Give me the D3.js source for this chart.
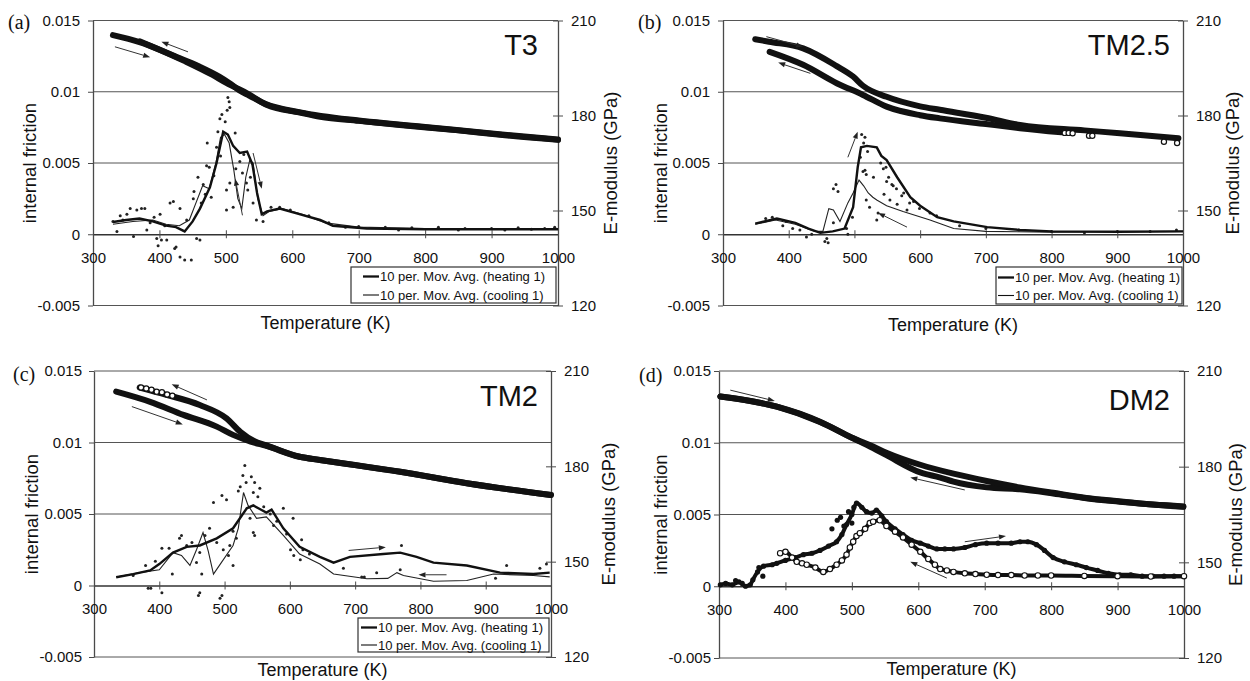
<!DOCTYPE html>
<html>
<head>
<meta charset="utf-8">
<script src="https://cdn.jsdelivr.net/npm/d3@7"></script>
<style>
  body { margin: 0; background: #fff; }
  svg { display: block; }
</style>
</head>
<body>
<svg id="fig" width="1250" height="681"></svg>
<script>
// ---- shared ticks / labels ----
const tempTicks = [300, 400, 500, 600, 700, 800, 900, 1000];
const frictionTicks = [-0.005, 0, 0.005, 0.01, 0.015];
const modulusTicks = [120, 150, 180, 210];
const legendLabels = ['10 per. Mov. Avg. (heating 1)', '10 per. Mov. Avg. (cooling 1)'];

// ---- (a) T3 ----  [T (K), E (GPa)] / [T (K), internal friction]
const t3ModHeat = [[330,205.4],[370,203.2],[440,197.0],[480,192.8],[500,190.4],[511,189.2],[532,187.0],[562,183.3],[612,180.9],[642,179.6],[700,178.3],[762,177.0],[850,175.3],[913,173.9],[1000,172.3]];
const t3ModCool = [[371,203.4],[420,199.0],[460,195.5],[490,192.3],[505,190.3],[520,188.0],[535,186.3],[560,183.6],[612,181.0],[700,178.4],[800,176.4],[900,174.3],[1000,172.4]];
const t3AvgHeat = [[330,0.00086],[350,0.0010],[370,0.0011],[390,0.0009],[410,0.0006],[425,0.0005],[438,0.0002],[450,0.0009],[461,0.0018],[476,0.0033],[486,0.0050],[496,0.0072],[503,0.0070],[511,0.0062],[521,0.0057],[532,0.0058],[540,0.0049],[547,0.0029],[554,0.0014],[562,0.0016],[581,0.0018],[612,0.0014],[642,0.0010],[661,0.0006],[712,0.0004],[800,0.00035],[900,0.00035],[1000,0.00035]];
const t3AvgCool = [[330,0.0007],[360,0.0009],[390,0.0010],[410,0.0007],[430,0.0006],[445,0.0010],[455,0.0022],[465,0.0034],[475,0.0032],[485,0.0050],[492,0.0068],[498,0.0070],[505,0.0064],[512,0.0045],[518,0.0025],[524,0.0018],[530,0.0040],[536,0.0052],[541,0.0050],[548,0.0025],[556,0.0013],[565,0.0016],[585,0.0018],[615,0.0014],[650,0.0008],[700,0.0005],[800,0.0004],[900,0.0004],[1000,0.0004]];
const t3Dots = [[503,0.0096],[505,0.0093],[506,0.0089],[502,0.0087],[491,0.0081],[494,0.0084],[499,0.0079],[488,0.0072],[514,0.0071],[472,0.0064],[486,0.0061],[471,0.0048],[492,0.0055],[458,0.0040],[466,0.0035],[475,0.0047],[482,0.0041],[506,0.0036],[501,0.0031],[511,0.0019],[501,0.0017],[531,0.0036],[533,0.0031],[521,0.0051],[527,0.0056],[541,0.0022],[546,0.0010],[556,0.0009],[515,0.0046],[525,0.0043],[537,0.0040],[469,0.0028],[478,0.0026],[452,0.0030],[463,0.0022],
  [396,-0.0003],[403,-0.0004],[411,-0.0004],[423,-0.0010],[431,-0.0016],[438,-0.0018],[448,-0.0018],[456,-0.0003],[461,-0.0004],[398,-0.0008],[425,-0.0009],
  [330,0.0009],[336,0.0002],[341,0.0013],[351,0.0014],[356,0.0018],[366,0.0017],[373,0.0018],[378,0.0018],[361,-0.00015],[381,0.0003],[401,0.0014],[416,0.0022],[421,0.0023],[431,0.0018],[441,0.0010],[451,0.0025],[386,0.0008],[408,0.0006],[345,0.0010],[392,0.0012],
  [568,0.0019],[581,0.0019],[597,0.0017],[625,0.0013],[655,0.0008],[680,0.0005],[700,0.00055],[740,0.0005],[760,0.0003],[780,0.00045],[820,0.0005],[850,0.0003],[860,0.0004],[900,0.0004],[920,0.0003],[940,0.00045],[960,0.00035],[980,0.0004],[995,0.0005]];
const t3Arrows = [[333,201.7,386,198.4,'E'],[443,200.1,403,203.3,'E'],[525,0.00133,514,0.0039,'q'],[541,0.0057,554,0.0032,'q']];

// ---- (b) TM2.5 ----
const tm25ModHeat = [[349,204.1],[370,203.3],[422,201.2],[473,195.6],[498,192.3],[513,189.4],[549,185.9],[600,182.9],[630,181.8],[700,179.3],[752,177.0],[850,175.3],[904,174.4],[993,172.8]];
const tm25ModCool = [[371,200.1],[422,196.0],[473,190.2],[513,186.5],[549,182.8],[600,180.1],[630,179.1],[700,177.3],[752,176.0],[815,174.7]];
const tm25ModOpen = [[820,174.5],[826,174.5],[832,174.4],[857,173.6],[862,173.6],[971,171.7],[991,171.3]];
const tm25AvgHeat = [[349,0.00075],[382,0.0011],[410,0.0008],[430,0.0004],[448,0.0001],[467,0.0002],[485,0.0004],[498,0.0019],[505,0.0047],[510,0.0061],[519,0.0062],[534,0.0061],[541,0.0055],[549,0.0052],[565,0.0040],[585,0.0026],[600,0.0020],[626,0.0012],[651,0.0009],[702,0.0005],[752,0.0003],[800,0.0002],[900,0.00018],[1000,0.0002]];
const tm25AvgCool = [[349,0.0007],[380,0.0010],[410,0.0007],[440,0.0002],[452,0.0002],[461,0.0018],[468,0.0017],[478,0.0009],[490,0.0022],[498,0.0029],[507,0.0038],[514,0.0034],[521,0.0029],[528,0.0026],[534,0.0024],[549,0.0020],[574,0.0016],[615,0.0010],[651,0.0004],[700,0.0002],[800,0.00015],[900,0.00018],[1000,0.0002]];
const tm25Dots = [[511,0.0070],[516,0.0068],[514,0.0064],[520,0.0058],[509,0.0054],[516,0.0045],[518,0.0042],[513,0.0044],[529,0.0040],[544,0.0046],[552,0.0040],[557,0.0035],[564,0.0032],[575,0.0029],[590,0.0023],[518,0.0024],[523,0.0019],[534,0.0010],[536,0.0015],[497,0.0012],[488,0.0004],[490,0.0000],[468,0.0032],[472,0.0035],[475,0.0030],[468,0.0008],[458,-0.0003],[460,-0.0006],[455,-0.0005],[417,0.0003],[427,-0.0002],[435,0.0000],[406,0.0004],[391,0.0006],[365,0.0011],[375,0.0012],[396,0.0009],[549,0.0037],[559,0.0034],[572,0.0027],[584,0.0022],[599,0.0018],[615,0.0015],[625,0.0013],[554,0.0024],[545,0.0028],[565,0.0021],[580,0.0017],[540,0.0050],[548,0.0047],
  [660,0.0006],[700,0.0004],[750,0.0003],[800,0.0002],[850,0.0001],[900,0.0002],[950,0.0002],[990,0.0003]];
const tm25Arrows = [[366,204.9,422,201.7,'E'],[433,193.3,384,196.7,'E'],[490,0.0054,505,0.0072,'q'],[580,0.0005,536,0.0015,'q']];

// ---- (c) TM2 ----
const tm2ModHeat = [[334,203.5],[386,200.3],[437,196.2],[488,192.5],[513,189.9],[540,187.8],[564,186.4],[615,183.0],[646,182.0],[700,180.4],[769,178.3],[871,174.7],[1000,171.0]];
const tm2ModCool = [[370,204.8],[411,202.5],[462,199.3],[503,195.1],[524,190.9],[545,188.0],[564,186.6],[615,183.0],[646,182.0],[769,178.3],[871,174.7],[1000,171.0]];
const tm2ModOpen = [[372,204.8],[380,204.5],[388,204.1],[396,203.5],[404,203.3],[412,202.6],[420,202.2]];
const tm2AvgHeat = [[334,0.00058],[360,0.0008],[386,0.00105],[400,0.0015],[421,0.0023],[442,0.0027],[462,0.0028],[488,0.0033],[513,0.0040],[534,0.0054],[544,0.0056],[556,0.0053],[564,0.0051],[572,0.0053],[590,0.0040],[615,0.0027],[646,0.0020],[667,0.0016],[692,0.0020],[743,0.0022],[769,0.0023],[794,0.0020],[820,0.0016],[871,0.0014],[922,0.0009],[973,0.0008],[998,0.0009]];
const tm2AvgCool = [[334,0.0006],[370,0.0009],[400,0.0011],[421,0.0023],[434,0.0021],[447,0.0014],[457,0.0025],[467,0.0037],[475,0.0024],[483,0.0008],[495,0.0016],[513,0.0028],[521,0.0040],[529,0.0065],[536,0.0056],[549,0.0047],[564,0.0048],[590,0.0035],[615,0.0022],[646,0.0015],[667,0.0008],[718,0.00047],[750,0.0005],[764,0.0009],[774,0.0007],[820,0.0003],[871,0.00035],[912,0.0008],[973,0.0007],[998,0.0006]];
const tm2Dots = [[531,0.0084],[528,0.0077],[541,0.0076],[546,0.0072],[554,0.0068],[533,0.0072],[524,0.0069],[521,0.0066],[496,0.0063],[483,0.0058],[503,0.0060],[544,0.0065],[551,0.0062],[590,0.0054],[605,0.0047],[539,0.0047],[544,0.0037],[546,0.0035],[513,0.0038],[518,0.0033],[508,0.0028],[506,0.0021],[513,0.0014],[498,0.0025],[465,0.0008],[457,0.0016],[477,0.0040],[462,0.0023],[442,0.0028],[434,0.0035],[431,0.0033],[415,0.0026],[404,0.0026],[394,0.0017],[420,0.0008],[462,-0.0005],[460,-0.0007],[383,-0.0002],[387,-0.0002],[404,-0.0005],[496,-0.0007],[493,-0.0009],[606,0.0021],[601,0.0025],[616,0.0018],[379,0.0014],[360,0.0007],
  [618,0.0032],[771,0.0028],[682,0.0012],[710,0.0006],[714,0.0006],[769,0.0011],[932,0.0014],[915,0.0005],[983,0.0012],[993,0.0015],[733,0.0009],
  [570,0.0050],[580,0.0045],[560,0.0055],[575,0.0042],[595,0.0036],[620,0.0025],[630,0.0022],[450,0.0030],[470,0.0035],[488,0.0030]];
const tm2Arrows = [[473,200.9,419,205.8,'E'],[358,198.8,436,193.2,'E'],[690,0.00245,747,0.00268,'q'],[840,0.00075,797,0.00075,'q']];

// ---- (d) DM2 ----
const dm2ModHeat = [[302,202.0],[350,200.5],[387,198.8],[452,194.1],[502,188.9],[532,186.3],[552,184.4],[603,180.6],[653,177.8],[703,175.5],[753,173.5],[803,171.8],[853,170.2],[904,169.1],[954,168.1],[999,167.5]];
const dm2ModCool = [[302,202.0],[387,198.8],[452,194.0],[502,188.9],[532,185.8],[552,183.6],[603,178.2],[633,176.6],[653,175.3],[703,173.5],[753,172.9],[803,171.6],[853,170.1],[904,169.0],[999,167.4]];
const dm2RawHeat = [[302,0.0001],[310,0.0002],[320,0.0001],[330,0.0003],[340,0.0000],[347,0.0001],[351,0.00045],[358,0.0010],[367,0.0014],[380,0.0015],[387,0.0016],[400,0.0018],[415,0.0020],[427,0.0022],[440,0.0023],[452,0.0025],[465,0.0028],[477,0.0031],[485,0.0036],[492,0.0043],[500,0.0050],[507,0.0058],[515,0.0055],[522,0.0052],[530,0.0051],[537,0.0053],[545,0.0049],[552,0.0045],[565,0.0040],[577,0.0036],[590,0.0032],[603,0.0030],[615,0.0028],[628,0.0026],[640,0.0026],[653,0.0026],[670,0.0027],[686,0.0029],[703,0.0030],[720,0.0030],[740,0.0030],[753,0.0031],[765,0.0031],[778,0.0029],[790,0.0025],[803,0.0020],[820,0.0017],[838,0.0015],[853,0.0013],[870,0.0011],[886,0.0009],[903,0.0008],[920,0.0008],[937,0.0007],[953,0.0007],[970,0.0007],[985,0.0007],[1000,0.0007]];
const dm2RawHeatExtra = [[470,0.0040],[478,0.0046],[483,0.0048],[488,0.0042],[495,0.0052],[503,0.0055],[500,0.0044],[366,0.0007],[360,0.0013],[335,0.0002],[325,0.0004]];
const dm2RawCool = [[392,0.0023],[400,0.0024],[410,0.0020],[417,0.0017],[425,0.0016],[432,0.0015],[445,0.0013],[457,0.0010],[467,0.0012],[477,0.0015],[485,0.0018],[492,0.0022],[497,0.0027],[502,0.0031],[507,0.0035],[512,0.0037],[520,0.0040],[527,0.0044],[532,0.0045],[542,0.0046],[552,0.0042],[565,0.0038],[577,0.0034],[590,0.0029],[603,0.0024],[615,0.0019],[625,0.0015],[633,0.0012],[643,0.0011],[653,0.0010],[670,0.0009],[686,0.00085],[703,0.0008],[720,0.00078],[740,0.00078],[760,0.00075],[780,0.00075],[800,0.00075],[850,0.00072],[900,0.0007],[950,0.00068],[1000,0.0007]];
const dm2Arrows = [[317,204.0,384,200.6,'E'],[670,172.7,588,176.6,'E'],[670,0.0031,732,0.0035,'q'],[643,0.00057,588,0.0017,'q']];

// ---- layout ----
const panels = [
  { tag: '(a)', name: 'T3', box: { l: 93, r: 558, t: 20.5, b: 305.5 },
    modHeat: t3ModHeat, modCool: t3ModCool, avgHeat: t3AvgHeat, avgCool: t3AvgCool, dots: t3Dots, arrows: t3Arrows,
    tagPos: [8, 29], namePos: [538, 55], leftGap: 13, yTitleX: 29, y2TitleX: 610, xTitleY: 323,
    legend: { x: 351, y: 267, w: 205, h: 36, lx: 363, tx: 380, r1: 276.5, r2: 295 } },
  { tag: '(b)', name: 'TM2.5', box: { l: 723, r: 1183, t: 20.5, b: 305.5 },
    modHeat: tm25ModHeat, modCool: tm25ModCool, modOpen: tm25ModOpen, avgHeat: tm25AvgHeat, avgCool: tm25AvgCool, dots: tm25Dots, arrows: tm25Arrows,
    tagPos: [638, 29], namePos: [1170, 55], leftGap: 13, yTitleX: 660, y2TitleX: 1232, xTitleY: 325,
    legend: { x: 996, y: 267, w: 186, h: 37, lx: 998, tx: 1015, r1: 277.5, r2: 295.5 } },
  { tag: '(c)', name: 'TM2', box: { l: 94, r: 551, t: 371, b: 657 },
    modHeat: tm2ModHeat, modCool: tm2ModCool, modOpen: tm2ModOpen, avgHeat: tm2AvgHeat, avgCool: tm2AvgCool, dots: tm2Dots, arrows: tm2Arrows,
    tagPos: [13, 381], namePos: [538, 406], leftGap: 12, yTitleX: 31, y2TitleX: 608, xTitleY: 670,
    legend: { x: 358, y: 618, w: 191, h: 34, lx: 361, tx: 378, r1: 627.5, r2: 645 } },
  { tag: '(d)', name: 'DM2', box: { l: 719, r: 1184, t: 371, b: 658 },
    modHeat: dm2ModHeat, modCool: dm2ModCool, rawHeat: dm2RawHeat, rawHeatExtra: dm2RawHeatExtra, rawCool: dm2RawCool, arrows: dm2Arrows,
    tagPos: [639, 382], namePos: [1170, 410], leftGap: 8, yTitleX: 660, y2TitleX: 1235, xTitleY: 669 }
];

const SANS = "'Liberation Sans', Arial, Helvetica, sans-serif";
const SERIF = "'Liberation Serif', 'Times New Roman', serif";
const INK = '#111';
const AXIS = '#4a4a4a';

const svg = d3.select('#fig');

function drawPanel(p) {
  const { l, r, t, b } = p.box;
  const g = svg.append('g');
  const x = d3.scaleLinear().domain([300, 1000]).range([l, r]);
  const yq = d3.scaleLinear().domain([-0.005, 0.015]).range([b, t]);
  const ye = d3.scaleLinear().domain([120, 210]).range([b, t]);

  // horizontal grid lines (0 is the x axis)
  g.selectAll('line.grid')
    .data(frictionTicks.filter(d => d !== 0))
    .enter().append('line')
    .attr('x1', l).attr('x2', r)
    .attr('y1', d => yq(d)).attr('y2', d => yq(d))
    .attr('stroke', '#555').attr('stroke-width', 1);

  // left axis
  const ax = g.append('g').attr('transform', `translate(${l},0)`)
    .call(d3.axisLeft(yq).tickValues(frictionTicks).tickSize(5).tickSizeOuter(0)
      .tickPadding(p.leftGap - 5).tickFormat(d => String(+d.toFixed(3))));
  // right axis
  const ar = g.append('g').attr('transform', `translate(${r},0)`)
    .call(d3.axisRight(ye).tickValues(modulusTicks).tickSize(5).tickSizeOuter(0).tickPadding(8));
  ar.selectAll('.tick line').attr('x1', -5);
  // x axis on zero line
  const axb = g.append('g').attr('transform', `translate(0,${yq(0)})`)
    .call(d3.axisBottom(x).tickValues(tempTicks).tickSize(4).tickSizeOuter(0).tickPadding(14)
      .tickFormat(d3.format('d')));
  axb.selectAll('.tick line').attr('y1', -4);

  [ax, ar, axb].forEach(a => {
    a.attr('font-family', SANS).attr('font-size', 15);
    a.selectAll('text').attr('fill', INK);
    a.selectAll('.tick line').attr('stroke', AXIS);
    a.select('.domain').attr('stroke', AXIS).attr('stroke-width', 1.3);
  });
  axb.select('.domain').attr('stroke', '#333').attr('stroke-width', 1.5);

  // E-modulus curves
  const lineE = d3.line().x(d => x(d[0])).y(d => ye(d[1])).curve(d3.curveMonotoneX);
  [p.modCool, p.modHeat].forEach(s => {
    g.append('path').datum(s).attr('d', lineE)
      .attr('fill', 'none').attr('stroke', INK).attr('stroke-width', 6)
      .attr('stroke-linecap', 'round').attr('stroke-linejoin', 'round');
  });
  if (p.modOpen) {
    g.selectAll('circle.open').data(p.modOpen).enter().append('circle')
      .attr('cx', d => x(d[0])).attr('cy', d => ye(d[1])).attr('r', 2.6)
      .attr('fill', '#fff').attr('stroke', INK).attr('stroke-width', 1.2);
  }

  const lineQ = d3.line().x(d => x(d[0])).y(d => yq(d[1]));

  // internal friction raw points
  if (p.dots) {
    g.selectAll('circle.dot').data(p.dots).enter().append('circle')
      .attr('cx', d => x(d[0])).attr('cy', d => yq(d[1])).attr('r', 1.5)
      .attr('fill', '#222');
  }
  if (p.rawHeat) {
    const smooth = d3.line().x(d => x(d[0])).y(d => yq(d[1])).curve(d3.curveMonotoneX);
    [p.rawHeat, p.rawCool].forEach(s => {
      g.append('path').datum(s).attr('d', smooth)
        .attr('fill', 'none').attr('stroke', INK).attr('stroke-width', 4).attr('stroke-linejoin', 'round');
    });
    g.selectAll('circle.rh').data(p.rawHeat.concat(p.rawHeatExtra)).enter().append('circle')
      .attr('cx', d => x(d[0])).attr('cy', d => yq(d[1])).attr('r', 2.6).attr('fill', INK);
    g.selectAll('circle.rc').data(p.rawCool).enter().append('circle')
      .attr('cx', d => x(d[0])).attr('cy', d => yq(d[1])).attr('r', 2.7)
      .attr('fill', '#fff').attr('stroke', INK).attr('stroke-width', 1.1);
  }

  // moving averages
  if (p.avgHeat) {
    g.append('path').datum(p.avgCool).attr('d', lineQ)
      .attr('fill', 'none').attr('stroke', '#222').attr('stroke-width', 1.1);
    g.append('path').datum(p.avgHeat).attr('d', lineQ)
      .attr('fill', 'none').attr('stroke', INK).attr('stroke-width', 2.4);
  }

  // arrows
  p.arrows.forEach(a => {
    const ys = a[4] === 'E' ? ye : yq;
    const x1 = x(a[0]), y1 = ys(a[1]), x2 = x(a[2]), y2 = ys(a[3]);
    const ang = Math.atan2(y2 - y1, x2 - x1);
    const hl = 7, hw = 2.6;
    const bx = x2 - hl * Math.cos(ang), by = y2 - hl * Math.sin(ang);
    g.append('line').attr('x1', x1).attr('y1', y1).attr('x2', bx).attr('y2', by)
      .attr('stroke', '#333').attr('stroke-width', 1);
    g.append('path')
      .attr('d', `M${x2},${y2}L${bx - hw * Math.sin(ang)},${by + hw * Math.cos(ang)}L${bx + hw * Math.sin(ang)},${by - hw * Math.cos(ang)}Z`)
      .attr('fill', '#222');
  });

  // legend
  if (p.legend) {
    const L = p.legend;
    g.append('rect').attr('x', L.x).attr('y', L.y).attr('width', L.w).attr('height', L.h)
      .attr('fill', '#fff').attr('stroke', '#333').attr('stroke-width', 1.2);
    [L.r1, L.r2].forEach((ry, i) => {
      g.append('line').attr('x1', L.lx).attr('x2', L.tx - 1).attr('y1', ry).attr('y2', ry)
        .attr('stroke', INK).attr('stroke-width', i === 0 ? 2.3 : 1.1);
      g.append('text').attr('x', L.tx).attr('y', ry).attr('dominant-baseline', 'central')
        .attr('font-family', SANS).attr('font-size', 13).attr('fill', INK).text(legendLabels[i]);
    });
  }

  // titles
  g.append('text').attr('transform', `translate(${p.yTitleX},${(t + b) / 2}) rotate(-90)`)
    .attr('text-anchor', 'middle').attr('dominant-baseline', 'central')
    .attr('font-family', SANS).attr('font-size', 18.5).attr('fill', INK).text('internal friction');
  g.append('text').attr('transform', `translate(${p.y2TitleX},${(t + b) / 2}) rotate(-90)`)
    .attr('text-anchor', 'middle').attr('dominant-baseline', 'central')
    .attr('font-family', SANS).attr('font-size', 18.5).attr('fill', INK).text('E-modulus (GPa)');
  g.append('text').attr('x', (l + r) / 2).attr('y', p.xTitleY)
    .attr('text-anchor', 'middle').attr('dominant-baseline', 'central')
    .attr('font-family', SANS).attr('font-size', 18).attr('fill', INK).text('Temperature (K)');
  g.append('text').attr('x', p.namePos[0]).attr('y', p.namePos[1]).attr('text-anchor', 'end')
    .attr('font-family', SANS).attr('font-size', 29).attr('fill', INK).text(p.name);
  g.append('text').attr('x', p.tagPos[0]).attr('y', p.tagPos[1])
    .attr('font-family', SERIF).attr('font-size', 20).attr('fill', INK).text(p.tag);
}

panels.forEach(drawPanel);
</script>
</body>
</html>
